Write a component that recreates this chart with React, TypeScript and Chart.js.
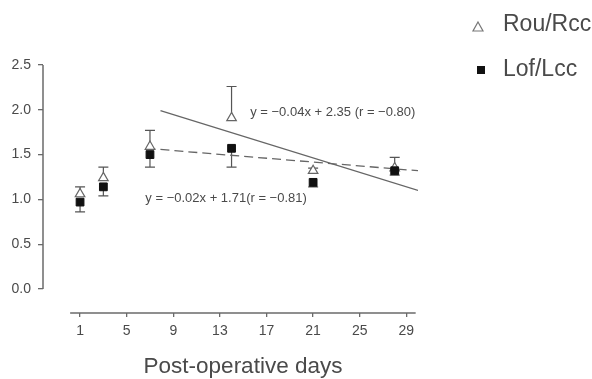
import { useEffect, useRef } from "react";
import { Chart, registerables } from "chart.js";

Chart.register(...registerables);

// ---- data ----
const days = [1, 3, 7, 14, 21, 28];
const seriesNames = ["Rou/Rcc", "Lof/Lcc"];
const rouRcc = [1.06, 1.24, 1.59, 1.91, 1.32, 1.35];
const rouRccUpper = [1.14, 1.36, 1.77, 2.26, 1.35, 1.47];
const lofLcc = [0.97, 1.14, 1.5, 1.57, 1.19, 1.32];
const lofLccLower = [0.86, 1.04, 1.36, 1.36, 1.14, 1.27];

const solidFitX = [7.9, 30];
const solidFitY = [1.99, 1.1];
const dashedFitX = [6.7, 30];
const dashedFitY = [1.57, 1.32];

const solidFitLabel = "y = \u22120.04x + 2.35 (r = \u22120.80)";
const dashedFitLabel = "y = \u22120.02x + 1.71(r = \u22120.81)";
const solidLabelAt = [15.6, 1.975];
const dashedLabelAt = [6.6, 1.016];

const xTicks = [1, 5, 9, 13, 17, 21, 25, 29];
const yTicks = [0, 0.5, 1, 1.5, 2, 2.5];
const xTitle = "Post-operative days";

const FONT = "'Liberation Sans', Arial, sans-serif";
const AXIS = "#6a6a6a";
const TEXT = "#4a4a4a";

const toPts = (xs: number[], ys: number[]) => xs.map((x, i) => ({ x, y: ys[i] }));

export default function App() {
  const ref = useRef<HTMLCanvasElement | null>(null);

  useEffect(() => {
    if (!ref.current) return;

    const decor = {
      id: "decor",
      beforeDatasetsDraw(chart: any) {
        const { ctx, chartArea, scales } = chart;
        const xs = scales.x;
        const ys = scales.y;
        ctx.save();
        ctx.strokeStyle = AXIS;
        ctx.lineWidth = 1.5;
        // detached axis lines
        ctx.beginPath();
        ctx.moveTo(chartArea.left, ys.getPixelForValue(yTicks[0]));
        ctx.lineTo(chartArea.left, ys.getPixelForValue(yTicks[yTicks.length - 1]));
        ctx.stroke();
        ctx.beginPath();
        ctx.moveTo(xs.getPixelForValue(0.15), chartArea.bottom);
        ctx.lineTo(xs.getPixelForValue(29.8), chartArea.bottom);
        ctx.stroke();
        // error bars
        ctx.lineWidth = 1.2;
        ctx.strokeStyle = "#555";
        const cap = 5;
        const bar = (x: number, v0: number, v1: number) => {
          const px = xs.getPixelForValue(x);
          const p0 = ys.getPixelForValue(v0);
          const p1 = ys.getPixelForValue(v1);
          ctx.beginPath();
          ctx.moveTo(px, p0);
          ctx.lineTo(px, p1);
          ctx.moveTo(px - cap, p1);
          ctx.lineTo(px + cap, p1);
          ctx.stroke();
        };
        days.forEach((d, i) => {
          bar(d, rouRcc[i], rouRccUpper[i]);
          bar(d, lofLcc[i], lofLccLower[i]);
        });
        ctx.restore();
      },
      afterDraw(chart: any) {
        const { ctx, scales } = chart;
        const xs = scales.x;
        const ys = scales.y;
        ctx.save();
        ctx.fillStyle = TEXT;
        ctx.textBaseline = "middle";
        ctx.textAlign = "left";
        ctx.font = `13px ${FONT}`;
        ctx.fillText(solidFitLabel, xs.getPixelForValue(solidLabelAt[0]), ys.getPixelForValue(solidLabelAt[1]));
        ctx.fillText(dashedFitLabel, xs.getPixelForValue(dashedLabelAt[0]), ys.getPixelForValue(dashedLabelAt[1]));

        // x axis title
        ctx.font = `22.5px ${FONT}`;
        ctx.textAlign = "center";
        ctx.fillText(xTitle, 243, 367);

        // legend
        ctx.font = `23px ${FONT}`;
        ctx.textAlign = "left";
        ctx.fillText(seriesNames[0], 503, 25);
        ctx.fillText(seriesNames[1], 503, 70);
        // triangle
        ctx.strokeStyle = "#777";
        ctx.lineWidth = 1.2;
        ctx.beginPath();
        ctx.moveTo(478, 22);
        ctx.lineTo(483, 31);
        ctx.lineTo(473, 31);
        ctx.closePath();
        ctx.stroke();
        // square
        ctx.fillStyle = "#111";
        ctx.fillRect(477, 66, 8, 8);
        ctx.restore();
      },
    };

    const chart = new Chart(ref.current, {
      type: "scatter",
      data: {
        datasets: [
          {
            label: seriesNames[1],
            data: toPts(days, lofLcc),
            pointStyle: "rect",
            pointRadius: 5.5,
            backgroundColor: "#111",
            borderColor: "#111",
            borderWidth: 1,
            order: 0,
          },
          {
            label: seriesNames[0],
            data: toPts(days, rouRcc),
            pointStyle: "triangle",
            pointRadius: 5.5,
            backgroundColor: "#fff",
            borderColor: "#666",
            borderWidth: 1.2,
            order: 1,
          },
          {
            label: "fit Rou/Rcc",
            data: toPts(solidFitX, solidFitY),
            showLine: true,
            pointRadius: 0,
            borderColor: "#666",
            borderWidth: 1.3,
            order: 2,
          },
          {
            label: "fit Lof/Lcc",
            data: toPts(dashedFitX, dashedFitY),
            showLine: true,
            pointRadius: 0,
            borderColor: "#666",
            borderWidth: 1.3,
            borderDash: [9, 5],
            order: 3,
          },
        ],
      },
      options: {
        animation: false,
        responsive: false,
        layout: { padding: { left: 0, top: 65, right: 174, bottom: 0 } },
        plugins: {
          legend: { display: false },
          tooltip: { enabled: false },
        },
        scales: {
          x: {
            type: "linear",
            min: -2.18,
            max: 30,
            afterBuildTicks: (s: any) => {
              s.ticks = xTicks.map((v) => ({ value: v }));
            },
            afterFit: (s: any) => {
              s.height = 66;
            },
            border: { display: false },
            grid: { drawOnChartArea: false, drawTicks: true, tickLength: 4, color: AXIS, lineWidth: 1.3 },
            ticks: {
              color: TEXT,
              font: { size: 14, family: FONT },
              padding: 6,
              maxRotation: 0,
              autoSkip: false,
              callback: (v: any) => String(v),
            },
          },
          y: {
            type: "linear",
            min: -0.268,
            max: 2.5,
            afterBuildTicks: (s: any) => {
              s.ticks = yTicks.map((v) => ({ value: v }));
            },
            afterFit: (s: any) => {
              s.width = 43;
            },
            border: { display: false },
            grid: { drawOnChartArea: false, drawTicks: true, tickLength: 5, color: AXIS, lineWidth: 1.3 },
            ticks: {
              color: TEXT,
              font: { size: 14, family: FONT },
              padding: 7,
              autoSkip: false,
              callback: (v: any) => Number(v).toFixed(1),
            },
          },
        },
      },
      plugins: [decor],
    } as any);

    return () => chart.destroy();
  }, []);

  return (
    <div style={{ position: "fixed", left: 0, top: 0, width: 592, height: 379, background: "#fff" }}>
      <canvas ref={ref} width={592} height={379} style={{ display: "block" }} />
    </div>
  );
}
